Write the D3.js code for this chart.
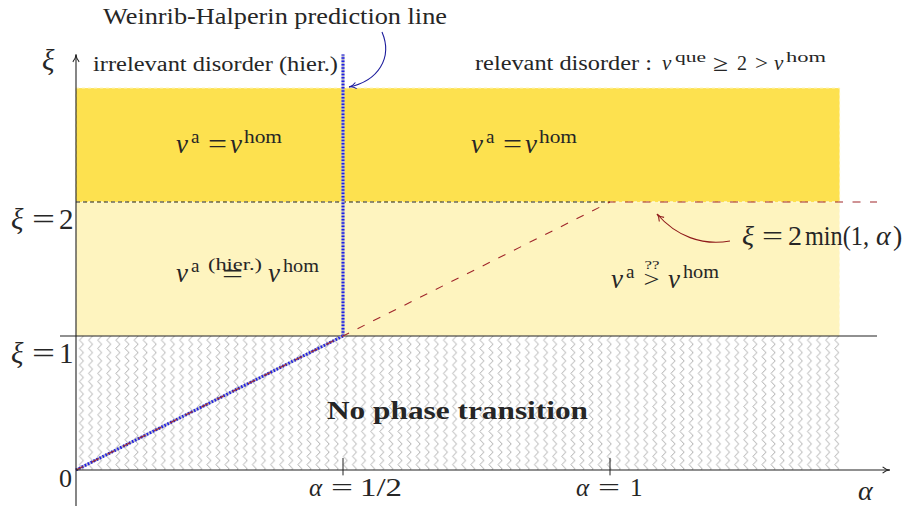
<!DOCTYPE html>
<html>
<head>
<meta charset="utf-8">
<script src="https://cdn.jsdelivr.net/npm/d3@7"></script>
<style>
  body { margin: 0; background: #fff; }
  svg { display: block; }
  text { font-family: "Liberation Serif", "DejaVu Serif", serif; fill: #262626; }
</style>
</head>
<body>
<svg id="chart" width="903" height="506"></svg>
<script>
// ---- data (alpha on x, xi on y) ----
const alphaTicks = [0.5, 1];
const alphaTickLabels = ['1/2', '1'];
const xiTicks = [1, 2];
const xiTickLabels = ['1', '2'];
const bandEdges = [0, 1, 2, 2.85];        // xi: no transition | hier. equal | relevant top
const alphaExtent = [0, 1.43];
const criticalCurve = [[0, 0], [0.5, 1], [1, 2], [1.5, 2]];  // xi = 2 min(1, alpha)
const whVertical = [[0.5, 1], [0.5, 3.1]];
const whDiagonal = [[0, 0], [0.5, 1]];
const xiTwoLine = [[0, 2], [1, 2]];
const xiOneLine = [[-0.03, 1], [1.5, 1]];

const x = d3.scaleLinear().domain([0, 1]).range([76, 610]);
const y = d3.scaleLinear().domain([0, 1]).range([470, 336]);

const svg = d3.select('#chart');
const defs = svg.append('defs');

// zigzag hatching for the "no phase transition" band
const pat = defs.append('pattern')
  .attr('id', 'zigzag')
  .attr('patternUnits', 'userSpaceOnUse')
  .attr('width', 9.1).attr('height', 8.3)
  .attr('x', 76).attr('y', 336);
pat.append('path')
  .attr('d', 'M7.5,0 L3.5,4.15 L7.5,8.3')
  .attr('fill', 'none')
  .attr('stroke', '#9e9e9e')
  .attr('stroke-width', 0.85);

function marker(id, color) {
  defs.append('marker')
    .attr('id', id)
    .attr('viewBox', '0 0 10 10')
    .attr('refX', 9).attr('refY', 5)
    .attr('markerWidth', 9).attr('markerHeight', 9)
    .attr('markerUnits', 'userSpaceOnUse')
    .attr('orient', 'auto')
    .append('path')
    .attr('d', 'M1,1.5 Q5,5 9,5 Q5,5 1,8.5')
    .attr('fill', 'none')
    .attr('stroke', color)
    .attr('stroke-width', 1.2);
}
marker('arrBlack', '#222');
marker('arrBlue', '#1c1c9c');
marker('arrRed', '#8f1a1a');

// ---- bands ----
const bands = [
  { lo: bandEdges[2], hi: bandEdges[3], fill: '#fde14f', edge: '#fff3a8' },
  { lo: bandEdges[1], hi: bandEdges[2], fill: '#fef4bf', edge: '#fffbe6' },
  { lo: bandEdges[0], hi: bandEdges[1], fill: 'url(#zigzag)', edge: 'none' }
];
svg.append('g').selectAll('rect')
  .data(bands)
  .join('rect')
  .attr('x', x(alphaExtent[0]))
  .attr('width', x(alphaExtent[1]) - x(alphaExtent[0]))
  .attr('y', d => y(d.hi))
  .attr('height', d => y(d.lo) - y(d.hi))
  .attr('fill', d => d.fill)
  .attr('stroke', d => d.edge)
  .attr('stroke-dasharray', '3,3')
  .attr('stroke-width', 1);

const line = d3.line().x(d => x(d[0])).y(d => y(d[1]));

// xi = 1 solid and xi = 2 dashed
svg.append('path').attr('d', line(xiOneLine))
  .attr('stroke', '#222').attr('stroke-width', 1.1).attr('fill', 'none');
svg.append('path').attr('d', line(xiTwoLine))
  .attr('stroke', '#222').attr('stroke-width', 1).attr('stroke-dasharray', '4,3').attr('fill', 'none');

// Weinrib-Halperin line (blue dotted)
[whVertical, whDiagonal].forEach(seg => {
  svg.append('path').attr('d', line(seg))
    .attr('stroke', '#b4b4c6').attr('stroke-width', 3).attr('fill', 'none');
  svg.append('path').attr('d', line(seg))
    .attr('stroke', '#1e1ee6').attr('stroke-width', 3)
    .attr('stroke-dasharray', '1.5,1.8').attr('fill', 'none');
});

// critical curve xi = 2 min(1, alpha)
svg.append('path').attr('d', line(criticalCurve))
  .attr('stroke', '#a0262b').attr('stroke-width', 1.1)
  .attr('stroke-dasharray', '8,9.5').attr('fill', 'none');

// axes
const axes = svg.append('g');
axes.append('line')
  .attr('x1', x(0)).attr('y1', y(0))
  .attr('x2', x(1.524)).attr('y2', y(0))
  .attr('stroke', '#222').attr('stroke-width', 1.1)
  .attr('marker-end', 'url(#arrBlack)');
axes.append('line')
  .attr('x1', x(0)).attr('y1', y(-0.27))
  .attr('x2', x(0)).attr('y2', y(3.1))
  .attr('stroke', '#222').attr('stroke-width', 1.1)
  .attr('marker-end', 'url(#arrBlack)');
axes.selectAll('.tick')
  .data(alphaTicks)
  .join('line')
  .attr('x1', d => x(d)).attr('x2', d => x(d))
  .attr('y1', y(0.09)).attr('y2', y(-0.04))
  .attr('stroke', '#222').attr('stroke-width', 1);

// ---- text ----
const lbl = svg.append('g');
function piece(px, py, str, size, o = {}) {
  const t = lbl.append('text').attr('x', px).attr('y', py).attr('font-size', size).text(str);
  if (o.it) t.attr('font-style', 'italic');
  if (o.bold) t.attr('font-weight', 'bold');
  if (o.anchor) t.attr('text-anchor', o.anchor);
  if (o.len) t.attr('textLength', o.len).attr('lengthAdjust', 'spacingAndGlyphs');
  return t;
}

// axis names
piece(42, 70, 'ξ', 29, { it: true });
piece(858, 500, 'α', 28, { it: true });
piece(72, 487, '0', 26, { anchor: 'end' });

// xi tick labels
xiTicks.forEach((v, i) => {
  const b = y(v) + 27;
  piece(11, b, 'ξ', 29, { it: true });
  piece(43.5, b, '=', 29, { anchor: 'middle', len: 23 });
  piece(59, b, xiTickLabels[i], 29);
});
// alpha tick labels
alphaTicks.forEach((v, i) => {
  const b = y(0) + 26;
  const c = x(v);
  const s = alphaTickLabels[i];
  piece(c - 34, b, 'α', 25, { it: true });
  piece(c - 1, b, '=', 25, { anchor: 'middle', len: 22 });
  piece(c + (s.length > 1 ? 17 : 20), b, s, 25, s.length > 1 ? { len: 42 } : {});
});

// top texts
piece(103, 24, 'Weinrib-Halperin prediction line', 23, { len: 344 });
piece(93, 71, 'irrelevant disorder (hier.)', 20, { len: 245 });
piece(475, 70, 'relevant disorder :', 20, { len: 177 });
piece(662, 70, 'ν', 21, { it: true });
piece(675, 62, 'que', 15, { len: 31 });
piece(720.5, 71, '≥', 23, { anchor: 'middle', len: 15 });
piece(737, 70, '2', 20);
piece(761.5, 70, '>', 22, { anchor: 'middle', len: 13 });
piece(774, 70, 'ν', 21, { it: true });
piece(786, 62, 'hom', 15, { len: 40 });

// region formulas
function nuEq(x0, b) {
  piece(x0, b, 'ν', 27, { it: true });
  piece(x0 + 15, b - 10, 'a', 19);
  piece(x0 + 41.5, b, '=', 27, { anchor: 'middle', len: 19 });
  piece(x0 + 54, b, 'ν', 27, { it: true });
  piece(x0 + 68, b - 10, 'hom', 19, { len: 38 });
}
nuEq(176, 153);
nuEq(471, 153);

piece(176, 282, 'ν', 27, { it: true });
piece(191, 272, 'a', 19);
piece(232.5, 283, '=', 27, { anchor: 'middle', len: 21 });
piece(235, 270, '(hier.)', 16, { anchor: 'middle', len: 54 });
piece(268, 282, 'ν', 27, { it: true });
piece(283, 272, 'hom', 19, { len: 36 });

piece(611, 288, 'ν', 27, { it: true });
piece(626, 278, 'a', 19);
piece(651.5, 287, '>', 24, { anchor: 'middle', len: 16 });
piece(652, 269, '??', 13, { anchor: 'middle', len: 15 });
piece(668, 288, 'ν', 27, { it: true });
piece(683, 278, 'hom', 19, { len: 36 });

piece(742, 245, 'ξ', 28, { it: true });
piece(772.5, 245, '=', 28, { anchor: 'middle', len: 21 });
piece(788, 245, '2', 28);
piece(805, 245, 'min(1,', 28, { len: 64 });
piece(876, 245, 'α', 28, { it: true });
piece(893, 245, ')', 28);

piece(327, 419, 'No phase transition', 26, { bold: true, len: 261 });

// annotation arrows
svg.append('path')
  .attr('d', 'M382,32 C393,58 378,81 349,87')
  .attr('fill', 'none').attr('stroke', '#1c1c9c').attr('stroke-width', 1.1)
  .attr('marker-end', 'url(#arrBlue)');
svg.append('path')
  .attr('d', 'M730,241 C702,246 676,236 657,214')
  .attr('fill', 'none').attr('stroke', '#8f1a1a').attr('stroke-width', 1.1)
  .attr('marker-end', 'url(#arrRed)');
</script>
</body>
</html>
